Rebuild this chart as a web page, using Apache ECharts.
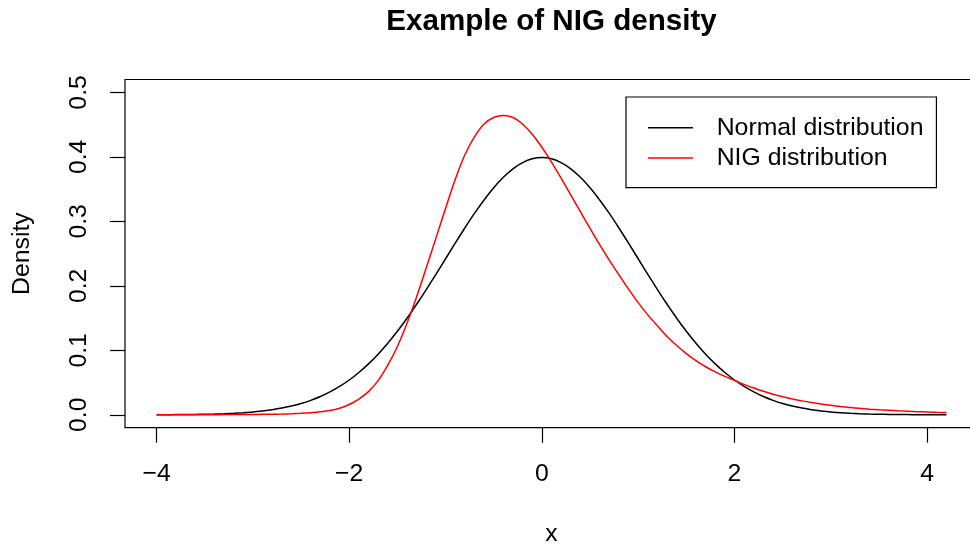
<!DOCTYPE html>
<html>
<head>
<meta charset="utf-8">
<script src="https://cdn.jsdelivr.net/npm/echarts@6/dist/echarts.min.js"></script>
<style>
  html, body { margin: 0; padding: 0; background: #ffffff; }
  #chart { width: 970px; height: 549px; }
</style>
</head>
<body>
<div id="chart"></div>
<script>
// Grid of x values where both densities are sampled
const xValues = [
  -4.0, -3.9, -3.8, -3.7, -3.6, -3.5, -3.4, -3.3, -3.2, -3.1,
  -3.0, -2.9, -2.8, -2.7, -2.6, -2.5, -2.4, -2.3, -2.2, -2.1,
  -2.0, -1.9, -1.8, -1.7, -1.6, -1.5, -1.4, -1.3, -1.2, -1.1,
  -1.0, -0.9, -0.8, -0.7, -0.6, -0.5, -0.4, -0.3, -0.2, -0.1,
   0.0,  0.1,  0.2,  0.3,  0.4,  0.5,  0.6,  0.7,  0.8,  0.9,
   1.0,  1.1,  1.2,  1.3,  1.4,  1.5,  1.6,  1.7,  1.8,  1.9,
   2.0,  2.1,  2.2,  2.3,  2.4,  2.5,  2.6,  2.7,  2.8,  2.9,
   3.0,  3.1,  3.2,  3.3,  3.4,  3.5,  3.6,  3.7,  3.8,  3.9,
   4.0,  4.1,  4.2
];

// Standard normal density
const normalDensity = [
  0.0001, 0.0002, 0.0003, 0.0004, 0.0006, 0.0009, 0.0012, 0.0017, 0.0024, 0.0033,
  0.0044, 0.0060, 0.0079, 0.0104, 0.0136, 0.0175, 0.0224, 0.0283, 0.0355, 0.0440,
  0.0540, 0.0656, 0.0790, 0.0940, 0.1109, 0.1295, 0.1497, 0.1714, 0.1942, 0.2179,
  0.2420, 0.2661, 0.2897, 0.3123, 0.3332, 0.3521, 0.3683, 0.3814, 0.3910, 0.3970,
  0.3989, 0.3970, 0.3910, 0.3814, 0.3683, 0.3521, 0.3332, 0.3123, 0.2897, 0.2661,
  0.2420, 0.2179, 0.1942, 0.1714, 0.1497, 0.1295, 0.1109, 0.0940, 0.0790, 0.0656,
  0.0540, 0.0440, 0.0355, 0.0283, 0.0224, 0.0175, 0.0136, 0.0104, 0.0079, 0.0060,
  0.0044, 0.0033, 0.0024, 0.0017, 0.0012, 0.0009, 0.0006, 0.0004, 0.0003, 0.0002,
  0.0001, 0.0001, 0.0001
];

// Normal inverse Gaussian density (skewed to the right)
const nigDensity = [
  0.0001, 0.0001, 0.0001, 0.0001, 0.0001, 0.0002, 0.0002, 0.0003, 0.0003, 0.0004,
  0.0005, 0.0007, 0.0009, 0.0012, 0.0017, 0.0024, 0.0033, 0.0046, 0.0066, 0.0102,
  0.0160, 0.0245, 0.0360, 0.0530, 0.0770, 0.1060, 0.1420, 0.1830, 0.2280, 0.2740,
  0.3200, 0.3650, 0.4030, 0.4310, 0.4510, 0.4610, 0.4640, 0.4610, 0.4510, 0.4350,
  0.4150, 0.3920, 0.3670, 0.3410, 0.3150, 0.2890, 0.2640, 0.2400, 0.2170, 0.1950,
  0.1740, 0.1550, 0.1380, 0.1215, 0.1075, 0.0950, 0.0840, 0.0745, 0.0665, 0.0595,
  0.0535, 0.0472, 0.0415, 0.0364, 0.0319, 0.0280, 0.0246, 0.0216, 0.0190, 0.0167,
  0.0147, 0.0129, 0.0114, 0.0100, 0.0088, 0.0078, 0.0069, 0.0061, 0.0054, 0.0048,
  0.0043, 0.0038, 0.0034
];

const xTicks = [-4, -2, 0, 2, 4];
const yTicks = [0, 0.1, 0.2, 0.3, 0.4, 0.5];
const seriesNames = ['Normal distribution', 'NIG distribution'];
const seriesColors = ['#000000', '#ff0000'];

const FONT = '"Liberation Sans", Arial, Helvetica, sans-serif';
const BASE_SIZE = 24.8;

function pairs(xs, ys) {
  return xs.map((x, i) => [x, ys[i]]);
}

const chart = echarts.init(document.getElementById('chart'), null, { renderer: 'canvas' });

chart.setOption({
  backgroundColor: '#ffffff',
  animation: false,
  textStyle: { fontFamily: FONT, color: '#000000' },
  title: {
    text: 'Example of NIG density',
    left: 551.5,
    top: 7,
    textAlign: 'center',
    padding: 0,
    textStyle: { fontFamily: FONT, fontSize: 29.6, fontWeight: 'bold', color: '#000000' }
  },
  grid: {
    left: 125,
    top: 79.5,
    width: 853,
    height: 348.2,
    outerBoundsMode: 'none',
    show: true,
    borderColor: '#000000',
    borderWidth: 1.2,
    backgroundColor: 'transparent',
    containLabel: false
  },
  legend: {
    orient: 'vertical',
    left: 626,
    top: 97,
    data: seriesNames,
    icon: 'rect',
    backgroundColor: '#ffffff',
    borderColor: '#000000',
    borderWidth: 1.2,
    borderRadius: 0,
    padding: [18.3, 13, 17.2, 22],
    itemWidth: 45,
    itemHeight: 1.5,
    itemGap: 5.2,
    textStyle: {
      fontFamily: FONT,
      fontSize: BASE_SIZE,
      color: '#000000',
      padding: [0, 0, 0, 18.7]
    }
  },
  xAxis: {
    type: 'value',
    min: -4.328,
    max: 4.528,
    name: 'x',
    nameLocation: 'middle',
    nameGap: 94,
    nameTextStyle: { fontFamily: FONT, fontSize: BASE_SIZE, color: '#000000', verticalAlign: 'top' },
    axisLine: { show: false, onZero: false },
    splitLine: { show: false },
    axisTick: {
      show: true,
      customValues: xTicks,
      length: 15,
      lineStyle: { color: '#000000', width: 1.2 }
    },
    axisLabel: {
      customValues: xTicks,
      margin: 34,
      fontFamily: FONT,
      fontSize: BASE_SIZE,
      color: '#000000',
      formatter: v => (v < 0 ? '\u2212' + Math.abs(v) : String(v))
    }
  },
  yAxis: {
    type: 'value',
    min: -0.02,
    max: 0.52,
    name: 'Density',
    nameLocation: 'middle',
    nameRotate: 90,
    nameGap: 90,
    nameTextStyle: { fontFamily: FONT, fontSize: BASE_SIZE, color: '#000000' },
    axisLine: { show: false, onZero: false },
    splitLine: { show: false },
    axisTick: {
      show: true,
      customValues: yTicks,
      length: 15,
      lineStyle: { color: '#000000', width: 1.2 }
    },
    axisLabel: {
      customValues: yTicks,
      rotate: 90,
      margin: 33,
      fontFamily: FONT,
      fontSize: BASE_SIZE,
      color: '#000000',
      formatter: v => v.toFixed(1)
    }
  },
  series: [
    {
      name: seriesNames[0],
      type: 'line',
      data: pairs(xValues, normalDensity),
      showSymbol: false,
      symbol: 'none',
      smooth: 0.3,
      lineStyle: { color: seriesColors[0], width: 1.5 },
      itemStyle: { color: seriesColors[0] },
      z: 2
    },
    {
      name: seriesNames[1],
      type: 'line',
      data: pairs(xValues, nigDensity),
      showSymbol: false,
      symbol: 'none',
      smooth: 0.3,
      lineStyle: { color: seriesColors[1], width: 1.5 },
      itemStyle: { color: seriesColors[1] },
      z: 3
    }
  ]
});
</script>
</body>
</html>
